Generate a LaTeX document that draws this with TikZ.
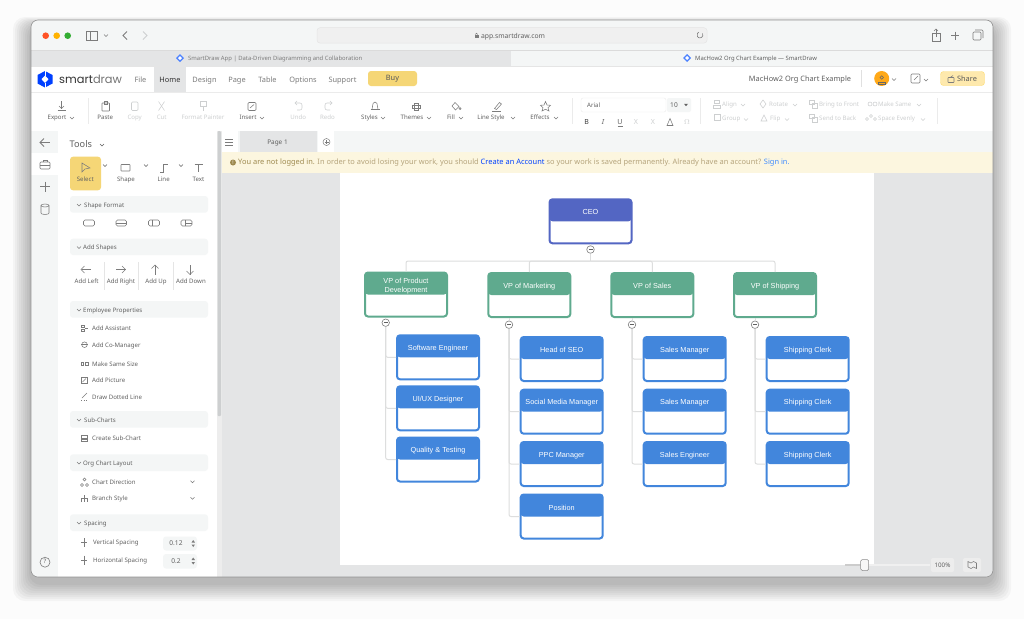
\documentclass[tikz,border=0pt]{standalone}
\usepackage{fontspec}
\setmainfont{Noto Sans}
\newfontfamily\chartfont{Liberation Sans}
\newfontfamily\logofont{Poppins}
\usepackage{xcolor}
\definecolor{bluecard}{HTML}{4286DC}
\definecolor{greencard}{HTML}{5FAA8E}
\definecolor{ceocard}{HTML}{5366C3}
\definecolor{linkgray}{HTML}{DDDEDE}
\definecolor{canvasgray}{HTML}{E4E5E6}
\definecolor{panelgray}{HTML}{F4F6F6}
\definecolor{uidark}{HTML}{606060}
\definecolor{uimid}{HTML}{7C7C7C}
\definecolor{uilight}{HTML}{CDCFD0}
\definecolor{buyyellow}{HTML}{F5D676}
\definecolor{bannertan}{HTML}{B5A47C}
\definecolor{bannerbold}{HTML}{9E8A50}
\definecolor{bannercream}{HTML}{FCF6DF}
\tikzset{
    card/.style={draw=#1,fill=white,line width=2pt,rounded corners=3pt,minimum width=82pt,minimum height=44pt,inner sep=0pt,
        path picture={\fill[#1] (path picture bounding box.north west) rectangle ([yshift=-22pt]path picture bounding box.north east);}},
    cardtext/.style={font=\chartfont\fontsize{7.3}{8.2}\selectfont,text=white,align=center,inner sep=0pt,yshift=-.7pt},
    link/.style={draw=linkgray,line width=1pt,rounded corners=2pt},
    toggle/.style={circle,draw=uimid,fill=white,line width=.6pt,minimum size=7.5pt,inner sep=0pt,
        path picture={\draw[uidark,line width=.7pt] ([xshift=-2pt]path picture bounding box.center) -- ([xshift=2pt]path picture bounding box.center);}},
    tool/.style={font=\fontsize{6.1}{7}\selectfont,text=uidark,inner sep=0pt,text height=4.6pt,text depth=1.2pt,yshift=-.6pt},
    toolleft/.style={tool,anchor=west},
    toollight/.style={tool,text=uilight},
    toollightleft/.style={toolleft,text=uilight},
    menu/.style={font=\fontsize{7.4}{8}\selectfont,text=uimid,inner sep=0pt,text height=5.6pt,text depth=1.5pt,yshift=-.6pt},
    band/.style={fill=panelgray,rounded corners=3pt},
    icon/.style={draw=uimid,line width=.55pt},
    iconlight/.style={draw=uilight,line width=.55pt},
    chevron/.pic={\draw[line width=.45pt,pic actions] (-2,-1) -- (0,1) -- (2,-1);}
}
\begin{document}
\begin{tikzpicture}[x=1pt,y=-1pt]
    \useasboundingbox (0,0) rectangle (1024,619);
    \fill[white!99!black] (0,0) rectangle (1024,619);
    % soft shadow
    \foreach \s in {18,16,...,2}
        \fill[black,opacity=.03,rounded corners=12pt] (31-\s,20-0.5*\s+6) rectangle (993+\s,577+\s+6);
    % window
    \begin{scope}
        \clip[rounded corners=7pt] (31,20) rectangle (993,577);
        \fill[panelgray] (31,20) rectangle (993,50);
        \fill[canvasgray] (31,50) rectangle (511,66);
        \fill[panelgray] (511,50) rectangle (993,66);
        \fill[white] (31,66) rectangle (993,131);
        \fill[panelgray] (31,131) rectangle (993,152);
        \fill[canvasgray] (222,152) rectangle (993,577);
        \fill[canvasgray] (31,565) rectangle (993,577);
        \fill[panelgray] (31,131) rectangle (58,577);
        \fill[white] (58,131) rectangle (217,577);
        \fill[white!93!black] (217,131) rectangle (222,577);
        \fill[uilight,rounded corners=1pt] (217.5,131) rectangle (221,416);
        \fill[white] (31,153) rectangle (58,175);
        \draw[white!86!black,line width=.6pt] (31,50) -- (993,50);
        \draw[white!90!black,line width=.6pt] (31,66) -- (993,66);
        \draw[white!92!black,line width=.6pt] (31,92) -- (993,92);
        % page
        \fill[white] (340,173) rectangle (874,565);
        \fill[white] (222,131) rectangle (238,152);
        \fill[canvasgray] (240,131) rectangle (317,152);
        \fill[white] (318,131) rectangle (334,152);
        \fill[bannercream] (222,152) rectangle (993,173);
    \end{scope}
    \draw[black!42,line width=.6pt,rounded corners=7pt] (31,20) rectangle (993,577);

    % browser bar
    \fill[red!60!orange!85!white] (45.7,35.7) circle (3.3);
    \fill[orange!60!yellow] (56.7,35.7) circle (3.3);
    \fill[green!60!black!80!white] (67.7,35.7) circle (3.3);
    \draw[icon] (86,31) rectangle (97,40);
    \draw[icon] (90,31) -- (90,40);
    \pic[draw=uimid] at (106,35.5) {chevron};
    \draw[icon,line width=.8pt] (127,31.5) -- (123,35.5) -- (127,39.5);
    \draw[iconlight,line width=.8pt] (143,31.5) -- (147,35.5) -- (143,39.5);
    \draw[fill=white!94!black,draw=white!90!black,line width=.5pt,rounded corners=3pt] (317,27.7) rectangle (707,43);
    \node[menu,text=uidark,font=\fontsize{6.8}{8}\selectfont] (addresstext) at (513,35.5) {app.smartdraw.com};
    \fill[uimid] (474.5,34.5) rectangle (478.5,38);
    \draw[uimid,line width=.5pt] (475.3,34.5) arc (180:360:1.2);
    \draw[uimid,line width=.6pt] (702.5,33.5) arc (-30:250:3);
    \draw[icon] (932,33) rectangle (940,41);
    \draw[icon] (936,37) -- (936,29);
    \draw[icon] (934,31) -- (936,29) -- (938,31);
    \draw[icon,line width=.8pt] (951,35.5) -- (959,35.5);
    \draw[icon,line width=.8pt] (955,31.5) -- (955,39.5);
    \draw[icon,rounded corners=1pt] (973,32) rectangle (981,40);
    \draw[icon,rounded corners=1pt] (975,30) -- (983,30) -- (983,38);

    % tabs
    \fill[blue!70!cyan!70!white] (180,54) -- (184,58) -- (180,62) -- (176,58) -- cycle;
    \fill[white] (180,56) -- (182,58) -- (180,60) -- (178,58) -- cycle;
    \node[menu,anchor=west,font=\fontsize{5.9}{7}\selectfont] (tableft) at (188,58.3) {SmartDraw App | Data-Driven Diagramming and Collaboration};
    \fill[blue!70!cyan!70!white] (687,54) -- (691,58) -- (687,62) -- (683,58) -- cycle;
    \fill[white] (687,56) -- (689,58) -- (687,60) -- (685,58) -- cycle;
    \node[menu,anchor=west,text=uidark,font=\fontsize{5.9}{7}\selectfont] (tabright) at (695,58.3) {MacHow2 Org Chart Example --- SmartDraw};

    % menu bar
    \fill[blue!75!cyan] (45,71) -- (52.5,75) -- (52.5,83.5) -- (45,87.5) -- (37.5,83.5) -- (37.5,75) -- cycle;
    \fill[white] (45,75.5) -- (48.5,79.2) -- (45,83) -- (41.5,79.2) -- cycle;
    \draw[white,line width=1pt] (45,70.5) -- (45,75.5);
    \draw[white,line width=1pt] (45,83) -- (45,88);
    \node[inner sep=0pt,anchor=west,font=\logofont\fontsize{11.4}{12}\selectfont] (logotext) at (59,79) {\textcolor{black!80}{smart}\textcolor{black!55}{draw}};
    \fill[canvasgray] (154.3,66.5) rectangle (186,91.7);
    \node[menu] (menufile) at (140.5,79.7) {File};
    \node[menu,text=black!80] (menuhome) at (170,79.7) {Home};
    \node[menu] (menudesign) at (204.5,79.7) {Design};
    \node[menu] (menupage) at (237,79.7) {Page};
    \node[menu] (menutable) at (267.5,79.7) {Table};
    \node[menu] (menuoptions) at (303,79.7) {Options};
    \node[menu] (menusupport) at (342.5,79.7) {Support};
    \node[fill=buyyellow,rounded corners=3pt,minimum width=49pt,minimum height=15pt,inner sep=0pt,font=\fontsize{7.4}{8}\selectfont,text=black!65] (buybutton) at (392.5,78.5) {Buy};
    \node[menu,text=uidark] (doctitle) at (800,78.7) {MacHow2 Org Chart Example};
    \draw[white!88!black,line width=.5pt] (861.7,70) -- (861.7,87);
    \node[circle,fill=orange!75!yellow!90!white,minimum size=15pt,inner sep=0pt] (avatar) at (881.7,78.5) {};
    \draw[black!60,line width=.5pt] (881.7,77.5) circle (1.8);
    \draw[black!60,line width=.5pt] (878.5,82.5) rectangle (885,84);
    \pic[draw=uimid] at (894,79.5) {chevron};
    \draw[icon,rounded corners=1pt] (911,74) rectangle (920,83);
    \draw[icon] (914,80) -- (918,76);
    \pic[draw=uimid] at (926,80) {chevron};
    \node[draw=yellow!55!orange!55!white,fill=yellow!50!orange!30!white,rounded corners=3pt,minimum width=44pt,minimum height=14pt,inner sep=0pt,font=\fontsize{7.4}{8}\selectfont,text=black!65] (sharebutton) at (962.5,78.5) {\hspace{9pt}Share};
    \draw[icon,rounded corners=.5pt] (948,77.5) rectangle (954,82.5);
    \draw[icon] (950,77.5) -- (953,75.5);

    % ribbon
    \draw[iconlight,white!92!black] (88.5,98) -- (88.5,124);
    \draw[iconlight,white!92!black] (572,98) -- (572,124);
    \draw[iconlight,white!92!black] (700,98) -- (700,124);
    \draw[iconlight,white!92!black] (937.7,98) -- (937.7,124);
    \node[tool] (ribexport) at (57,117.5) {Export};
    \pic[draw=uimid] at (72,118) {chevron};
    \node[tool] (ribpaste) at (105.3,117.5) {Paste};
    \node[toollight] (ribcopy) at (134.7,117.5) {Copy};
    \node[toollight] (ribcut) at (161.7,117.5) {Cut};
    \node[toollight] (ribpainter) at (203,117.5) {Format Painter};
    \node[tool] (ribinsert) at (248,117.5) {Insert};
    \pic[draw=uimid] at (262,118) {chevron};
    \node[toollight] (ribundo) at (298.3,117.5) {Undo};
    \node[toollight] (ribredo) at (327.5,117.5) {Redo};
    \node[tool] (ribstyles) at (369.5,117.5) {Styles};
    \pic[draw=uimid] at (383,118) {chevron};
    \node[tool] (ribthemes) at (412,117.5) {Themes};
    \pic[draw=uimid] at (429,118) {chevron};
    \node[tool] (ribfill) at (451,117.5) {Fill};
    \pic[draw=uimid] at (461,118) {chevron};
    \node[tool] (ribline) at (491,117.5) {Line Style};
    \pic[draw=uimid] at (513,118) {chevron};
    \node[tool] (ribeffects) at (540,117.5) {Effects};
    \pic[draw=uimid] at (556,118) {chevron};
    % ribbon icons
    \draw[icon] (61.5,101) -- (61.5,108.5);
    \draw[icon] (59,106) -- (61.5,108.5) -- (64,106);
    \draw[icon] (57.5,110.5) -- (65.5,110.5);
    \draw[icon,rounded corners=.5pt] (102,103) rectangle (109.5,111);
    \draw[icon] (104,101.5) rectangle (107.5,104);
    \draw[iconlight,rounded corners=1pt] (131.5,102) rectangle (138,110.5);
    \draw[iconlight] (158.5,101.5) -- (164.5,110.5);
    \draw[iconlight] (164.5,101.5) -- (158.5,110.5);
    \draw[iconlight] (200,101.5) rectangle (206.5,106.5);
    \draw[iconlight] (203,106.5) -- (203,111);
    \draw[icon,rounded corners=1pt] (248,102.5) rectangle (256,110.5);
    \draw[icon] (250,108) -- (254,104.5);
    \draw[iconlight,rounded corners=2pt] (295,103) -- (302,103) -- (302,110) -- (297,110);
    \draw[iconlight] (297,101) -- (295,103) -- (297,105);
    \draw[iconlight,rounded corners=2pt] (332,103) -- (325,103) -- (325,110) -- (330,110);
    \draw[iconlight] (330,101) -- (332,103) -- (330,105);
    \draw[icon] (370.5,109.5) -- (379.5,109.5);
    \draw[icon] (372,109.5) .. controls (373,103) and (373,102) .. (375,102) .. controls (377,102) and (377,103) .. (378,109.5);
    \draw[icon] (414,103) rectangle (418.5,110);
    \draw[icon] (412,105) rectangle (420.5,108);
    \draw[icon] (452,106) -- (455,102.5) -- (459,106.5) -- (455.5,110) -- cycle;
    \draw[icon] (460,108.5) circle (1.1);
    \draw[icon] (492,111) -- (501,111);
    \draw[icon] (494.5,108.5) -- (499.5,102.5) -- (501.5,104) -- (496.5,109.5) -- cycle;
    \draw[icon] (545.5,101.5) -- (547,105) -- (550.5,105.3) -- (548,107.7) -- (549,111) -- (545.5,109.3) -- (542,111) -- (543,107.7) -- (540.5,105.3) -- (544,105) -- cycle;
    % font controls
    \node[draw=white!92!black,rounded corners=2pt,minimum width=85pt,minimum height=14pt,inner sep=0pt] (fontbox) at (623.5,105) {};
    \node[tool,anchor=west] (fontname) at (587,105.3) {Arial};
    \node[fill=panelgray,rounded corners=2pt,minimum width=24pt,minimum height=14pt,inner sep=0pt] (sizebox) at (679,105) {};
    \node[tool,font=\fontsize{6.6}{7}\selectfont] (sizeval) at (674,105.3) {10};
    \fill[uidark] (684,103.8) -- (688,103.8) -- (686,106.2) -- cycle;
    \node[tool,text=black!75,font=\bfseries\fontsize{7}{7}\selectfont] (fmtbold) at (586.7,122) {B};
    \node[tool,font=\itshape\fontsize{7}{7}\selectfont] (fmtitalic) at (603,122) {I};
    \node[tool,font=\fontsize{7}{7}\selectfont] (fmtunder) at (620,122) {U};
    \draw[icon] (617.5,126) -- (622.5,126);
    \node[toollight,font=\fontsize{7}{7}\selectfont] (fmtsub) at (636,122) {X};
    \node[toollight,font=\fontsize{7}{7}\selectfont] (fmtsup) at (653,122) {X};
    \draw[icon] (667,125.5) -- (670,118.5) -- (673,125.5) -- cycle;
    \node[toollight,font=\fontsize{7}{7}\selectfont] (fmtomega) at (687,122) {$\Omega$};
    % disabled buttons
    \node[toollightleft] (btnalign) at (722,104) {Align};
    \pic[draw=uilight] at (743,105) {chevron};
    \node[toollightleft] (btnrotate) at (769,104) {Rotate};
    \pic[draw=uilight] at (795,105) {chevron};
    \node[toollightleft] (btnfront) at (819,104) {Bring to Front};
    \node[toollightleft] (btnsame) at (878,104) {Make Same};
    \pic[draw=uilight] at (919,105) {chevron};
    \node[toollightleft] (btngroup) at (722,118.5) {Group};
    \pic[draw=uilight] at (746,119.5) {chevron};
    \node[toollightleft] (btnflip) at (770,118.5) {Flip};
    \pic[draw=uilight] at (787,119.5) {chevron};
    \node[toollightleft] (btnback) at (819,118.5) {Send to Back};
    \node[toollightleft] (btnspace) at (878,118.5) {Space Evenly};
    \pic[draw=uilight] at (923,119.5) {chevron};
    \draw[iconlight] (714,100) rectangle (719,103);
    \draw[iconlight] (713,105) rectangle (720,108);
    \draw[iconlight] (763,100) -- (766,104) -- (763,108) -- (760,104) -- cycle;
    \draw[iconlight] (809,100) rectangle (814,104);
    \draw[iconlight] (812,103) rectangle (817,108);
    \draw[iconlight] (870,104) circle (2);
    \draw[iconlight] (875,104) circle (2);
    \draw[iconlight] (714,114) rectangle (720,120);
    \draw[iconlight] (761,121) -- (764,115) -- (767,121) -- cycle;
    \draw[iconlight] (809,114) rectangle (814,118);
    \draw[iconlight] (812,117) rectangle (817,122);
    \draw[iconlight] (871,116) circle (1.5);
    \draw[iconlight] (867,119) circle (1.5);
    \draw[iconlight] (875,119) circle (1.5);

    % page tabs and banner
    \draw[icon] (225,139) -- (233,139);
    \draw[icon] (225,142) -- (233,142);
    \draw[icon] (225,145) -- (233,145);
    \node[tool,font=\fontsize{6.4}{7}\selectfont] (pagetab) at (277.5,142) {Page 1};
    \node[circle,draw=uimid,line width=.5pt,minimum size=7pt,inner sep=0pt] (pageadd) at (326.5,142) {};
    \draw[icon] (324.5,142) -- (328.5,142);
    \draw[icon] (326.5,140) -- (326.5,144);
    \node[circle,fill=bannerbold,minimum size=6pt,inner sep=0pt,text=white,font=\bfseries\fontsize{5}{5}\selectfont] (bannermark) at (233,162.5) {!};
    \node[anchor=west,inner sep=0pt,font=\fontsize{7.45}{8}\selectfont,text=bannertan] (bannertext) at (238,162.5) {\textbf{\textcolor{bannerbold}{You are not logged in.}} In order to avoid losing your work, you should \textbf{\textcolor{blue!75!cyan}{Create an Account}} so your work is saved permanently. Already have an account? \textcolor{blue!60!cyan!75!white}{Sign in.}};

    % left icon strip
    \draw[icon,line width=.8pt] (40,142.5) -- (50,142.5);
    \draw[icon,line width=.8pt] (44,138.5) -- (40,142.5) -- (44,146.5);
    \draw[icon,rounded corners=1pt] (40,162) rectangle (50,169);
    \draw[icon] (43,162) -- (43,160) -- (47,160) -- (47,162);
    \draw[icon] (40,165) -- (50,165);
    \draw[icon,line width=.8pt] (40,186.5) -- (50,186.5);
    \draw[icon,line width=.8pt] (45,181.5) -- (45,191.5);
    \draw[icon] (41,205.5) -- (41,213) arc (180:0:4 and 1.5) -- (49,205.5);
    \draw[icon] (45,205.5) ellipse (4 and 1.5);
    \node[tool,circle,draw=uimid,line width=.6pt,minimum size=10pt,font=\fontsize{6}{6}\selectfont] (helpmark) at (45,561.6) {?};

    % tools panel
    \node[anchor=west,inner sep=0pt,font=\fontsize{9.2}{10}\selectfont,text=uidark] (toolstitle) at (69.5,144.5) {Tools};
    \pic[draw=uidark] at (102,145) {chevron};
    \fill[buyyellow,rounded corners=3pt] (70,156.7) rectangle (101,190.3);
    \node[tool] (toolselect) at (85.3,179.5) {Select};
    \node[tool] (toolshape) at (126,179.5) {Shape};
    \node[tool] (toolline) at (163.7,179.5) {Line};
    \node[tool] (tooltext) at (198.5,179.5) {Text};
    \draw[icon] (82,163) -- (90,168) -- (85,169) -- (82,172) -- cycle;
    \draw[icon,rounded corners=.5pt] (121,164.5) rectangle (130,171);
    \draw[icon] (160,172) -- (163.5,172) -- (163.5,164) -- (168,164);
    \draw[icon] (194.5,164) -- (202.5,164);
    \draw[icon] (198.5,164) -- (198.5,172);
    \pic[draw=uidark] at (105,165.5) {chevron};
    \pic[draw=uidark] at (146,165.5) {chevron};
    \pic[draw=uidark] at (181,165.5) {chevron};

    \fill[band] (70,196) rectangle (208,212.7);
    \fill[band] (70,238.7) rectangle (208,255);
    \fill[band] (70,301) rectangle (208,317.7);
    \fill[band] (70,411) rectangle (208,427.7);
    \fill[band] (70,454.3) rectangle (208,471);
    \fill[band] (70,514.3) rectangle (208,531);
    \pic[draw=uimid] at (79,205) {chevron};
    \pic[draw=uimid] at (79,247.5) {chevron};
    \pic[draw=uimid] at (79,310) {chevron};
    \pic[draw=uimid] at (79,420) {chevron};
    \pic[draw=uimid] at (79,463) {chevron};
    \pic[draw=uimid] at (79,523) {chevron};
    \node[toolleft] (secformat) at (84,205) {Shape Format};
    \node[toolleft] (secadd) at (83,247.5) {Add Shapes};
    \node[toolleft] (secemployee) at (83,310) {Employee Properties};
    \node[toolleft] (secsub) at (84,420) {Sub-Charts};
    \node[toolleft] (seclayout) at (83,463) {Org Chart Layout};
    \node[toolleft] (secspacing) at (84,523) {Spacing};

    % shape format icons
    \draw[icon,rounded corners=1.5pt] (83.5,220) rectangle (94.5,226);
    \draw[icon,rounded corners=1.5pt] (116,220) rectangle (126.5,226);
    \draw[icon] (116,223) -- (126.5,223);
    \draw[icon,rounded corners=1.5pt] (148.5,220) rectangle (159.5,226);
    \draw[icon] (152.5,220) -- (152.5,226);
    \draw[icon,rounded corners=1.5pt] (181,220) rectangle (192,226);
    \draw[icon] (185,220) -- (185,226);
    \draw[icon] (185,223) -- (192,223);

    % add shapes
    \draw[white!90!black,line width=.5pt] (104,262) -- (104,290);
    \draw[white!90!black,line width=.5pt] (138.7,262) -- (138.7,290);
    \draw[white!90!black,line width=.5pt] (173.7,262) -- (173.7,290);
    \node[tool] (addleft) at (86.7,281.5) {Add Left};
    \node[tool] (addright) at (121,281.5) {Add Right};
    \node[tool] (addup) at (156,281.5) {Add Up};
    \node[tool] (adddown) at (191,281.5) {Add Down};
    \draw[icon] (81.5,269.5) -- (91,269.5);
    \draw[icon] (84.5,266) -- (81,269.5) -- (84.5,273);
    \draw[icon] (116,269.5) -- (125.5,269.5);
    \draw[icon] (122,266) -- (125.5,269.5) -- (122,273);
    \draw[icon] (155,265) -- (155,274.5);
    \draw[icon] (151.5,268.5) -- (155,265) -- (158.5,268.5);
    \draw[icon] (190,265) -- (190,274.5);
    \draw[icon] (186.5,271) -- (190,274.5) -- (193.5,271);

    % panel rows
    \node[toolleft] (rowassistant) at (92,328) {Add Assistant};
    \node[toolleft] (rowcomanager) at (92,344.7) {Add Co-Manager};
    \node[toolleft] (rowsamesize) at (92,363.7) {Make Same Size};
    \node[toolleft] (rowpicture) at (92,380.3) {Add Picture};
    \node[toolleft] (rowdotted) at (92,397) {Draw Dotted Line};
    \node[toolleft] (rowsubchart) at (92,438) {Create Sub-Chart};
    \node[toolleft] (rowdirection) at (92,481.7) {Chart Direction};
    \node[toolleft] (rowbranch) at (92,498.3) {Branch Style};
    \node[toolleft] (rowvertical) at (93,542.3) {Vertical Spacing};
    \node[toolleft] (rowhorizontal) at (93,560) {Horizontal Spacing};
    \draw[icon] (81,325.5) rectangle (84,327.5);
    \draw[icon] (81,329) rectangle (84,331);
    \draw[icon] (85,328) -- (88,328);
    \draw[icon] (84.5,344.7) circle (2.8);
    \draw[icon] (81,344.7) -- (88,344.7);
    \draw[icon] (81,362) rectangle (83.5,365.5);
    \draw[icon] (85.5,362) rectangle (88,365.5);
    \draw[icon] (81,377.3) rectangle (87.5,383.3);
    \draw[icon] (82.5,382) -- (86,378.5);
    \draw[icon] (82,398) -- (87,393);
    \draw[icon,dotted] (81,400.5) -- (88,400.5);
    \draw[icon] (81.5,435) rectangle (87.5,438);
    \draw[icon] (81.5,439.5) rectangle (87.5,441.5);
    \draw[icon] (84.5,479.5) circle (1.5);
    \draw[icon] (82,485) circle (1.5);
    \draw[icon] (87,485) circle (1.5);
    \draw[icon] (81.5,502) -- (81.5,498) -- (87.5,498) -- (87.5,502);
    \draw[icon] (84.5,495) -- (84.5,502);
    \pic[draw=uimid] at (192.5,481.7) {chevron};
    \pic[draw=uimid] at (192.5,498.3) {chevron};
    \draw[icon] (84,538) -- (84,547);
    \draw[icon] (81,542.5) -- (87,542.5);
    \draw[icon] (84,555.5) -- (84,564.5);
    \draw[icon] (81,560) -- (87,560);
    \fill[band] (163,536.5) rectangle (197,550.5);
    \fill[band] (163,554) rectangle (197,568.5);
    \node[tool,font=\fontsize{6.6}{7}\selectfont] (valvertical) at (176,543.5) {0.12};
    \node[tool,font=\fontsize{6.6}{7}\selectfont] (valhorizontal) at (176,561) {0.2};
    \fill[uimid] (191.5,542.5) -- (195,542.5) -- (193.2,540) -- cycle;
    \fill[uimid] (191.5,544.5) -- (195,544.5) -- (193.2,547) -- cycle;
    \fill[uimid] (191.5,560) -- (195,560) -- (193.2,557.5) -- cycle;
    \fill[uimid] (191.5,562) -- (195,562) -- (193.2,564.5) -- cycle;

    % org chart
    \node[card=ceocard] (ceo) at (590.5,221.3) {};
    \node[cardtext] (ceotext) at ([yshift=-13pt]ceo.north) {CEO};
    \node[card=greencard] (vpproduct) at (406,294.5) {};
    \node[cardtext] (vpproducttext) at ([yshift=-14pt]vpproduct.north) {VP of Product\\Development};
    \node[card=greencard] (vpmarketing) at (529.3,295) {};
    \node[cardtext] (vpmarketingtext) at ([yshift=-13.5pt]vpmarketing.north) {VP of Marketing};
    \node[card=greencard] (vpsales) at (652.3,295) {};
    \node[cardtext] (vpsalestext) at ([yshift=-13.5pt]vpsales.north) {VP of Sales};
    \node[card=greencard] (vpshipping) at (775,295) {};
    \node[cardtext] (vpshippingtext) at ([yshift=-13.5pt]vpshipping.north) {VP of Shipping};

    \node[card=bluecard] (software) at (438,357.3) {};
    \node[cardtext] (softwaretext) at ([yshift=-13.5pt]software.north) {Software Engineer};
    \node[card=bluecard] (uiux) at (438,408.3) {};
    \node[cardtext] (uiuxtext) at ([yshift=-13.5pt]uiux.north) {UI/UX Designer};
    \node[card=bluecard] (quality) at (438,459.5) {};
    \node[cardtext] (qualitytext) at ([yshift=-13.5pt]quality.north) {Quality \& Testing};

    \node[card=bluecard] (seo) at (561.7,359) {};
    \node[cardtext] (seotext) at ([yshift=-13.5pt]seo.north) {Head of SEO};
    \node[card=bluecard] (social) at (561.7,411.7) {};
    \node[cardtext] (socialtext) at ([yshift=-13.5pt]social.north) {Social Media Manager};
    \node[card=bluecard] (ppc) at (561.7,464) {};
    \node[cardtext] (ppctext) at ([yshift=-13.5pt]ppc.north) {PPC Manager};
    \node[card=bluecard] (position) at (561.7,516.5) {};
    \node[cardtext] (positiontext) at ([yshift=-13.5pt]position.north) {Position};

    \node[card=bluecard] (salesa) at (684.7,359) {};
    \node[cardtext] (salesatext) at ([yshift=-13.5pt]salesa.north) {Sales Manager};
    \node[card=bluecard] (salesb) at (684.7,411.7) {};
    \node[cardtext] (salesbtext) at ([yshift=-13.5pt]salesb.north) {Sales Manager};
    \node[card=bluecard] (salesc) at (684.7,464) {};
    \node[cardtext] (salesctext) at ([yshift=-13.5pt]salesc.north) {Sales Engineer};

    \node[card=bluecard] (clerka) at (807.7,359) {};
    \node[cardtext] (clerkatext) at ([yshift=-13.5pt]clerka.north) {Shipping Clerk};
    \node[card=bluecard] (clerkb) at (807.7,411.7) {};
    \node[cardtext] (clerkbtext) at ([yshift=-13.5pt]clerkb.north) {Shipping Clerk};
    \node[card=bluecard] (clerkc) at (807.7,464) {};
    \node[cardtext] (clerkctext) at ([yshift=-13.5pt]clerkc.north) {Shipping Clerk};

    \coordinate (ceobus) at (590.5,261);
    \node[toggle] (ceotoggle) at (590.5,249.5) {};
    \node[toggle] (producttoggle) at (385.7,322.7) {};
    \node[toggle] (marketingtoggle) at (509,324.7) {};
    \node[toggle] (salestoggle) at (632,324.7) {};
    \node[toggle] (shippingtoggle) at (755,324.7) {};

    \draw[link] (ceo.south) -- (ceotoggle.north);
    \draw[link] (ceotoggle.south) -- (ceobus);
    \draw[link] (ceobus) -| (vpproduct.north);
    \draw[link] (ceobus) -| (vpmarketing.north);
    \draw[link] (ceobus) -| (vpsales.north);
    \draw[link] (ceobus) -| (vpshipping.north);
    \draw[link] (vpproduct.south -| producttoggle) -- (producttoggle.north);
    \draw[link] (producttoggle.south) |- (software.west);
    \draw[link] (producttoggle.south) |- (uiux.west);
    \draw[link] (producttoggle.south) |- (quality.west);
    \draw[link] (vpmarketing.south -| marketingtoggle) -- (marketingtoggle.north);
    \draw[link] (marketingtoggle.south) |- (seo.west);
    \draw[link] (marketingtoggle.south) |- (social.west);
    \draw[link] (marketingtoggle.south) |- (ppc.west);
    \draw[link] (marketingtoggle.south) |- (position.west);
    \draw[link] (vpsales.south -| salestoggle) -- (salestoggle.north);
    \draw[link] (salestoggle.south) |- (salesa.west);
    \draw[link] (salestoggle.south) |- (salesb.west);
    \draw[link] (salestoggle.south) |- (salesc.west);
    \draw[link] (vpshipping.south -| shippingtoggle) -- (shippingtoggle.north);
    \draw[link] (shippingtoggle.south) |- (clerka.west);
    \draw[link] (shippingtoggle.south) |- (clerkb.west);
    \draw[link] (shippingtoggle.south) |- (clerkc.west);

    % zoom bar
    \draw[white!94!black,line width=1.4pt] (861,565) -- (930,565);
    \draw[black!20,line width=1.4pt] (845,565) -- (861,565);
    \fill[white!97!black,draw=black!45,line width=.5pt,rounded corners=1.5pt] (860.7,559.5) rectangle (868.7,570.5);
    \node[fill=white!93!black,rounded corners=2pt,minimum width=23pt,minimum height=14pt,inner sep=0pt,font=\fontsize{6.2}{7}\selectfont,text=uidark] (zoomlevel) at (942.5,565) {100\%};
    \node[fill=white!93!black,rounded corners=2pt,minimum width=18pt,minimum height=14pt,inner sep=0pt] (maptile) at (972,565) {};
    \draw[icon] (968,561.5) -- (971,563) -- (973.5,561.5) -- (976.5,563) -- (976.5,568.5) -- (973.5,567) -- (971,568.5) -- (968,567) -- cycle;
\end{tikzpicture}
\end{document}
